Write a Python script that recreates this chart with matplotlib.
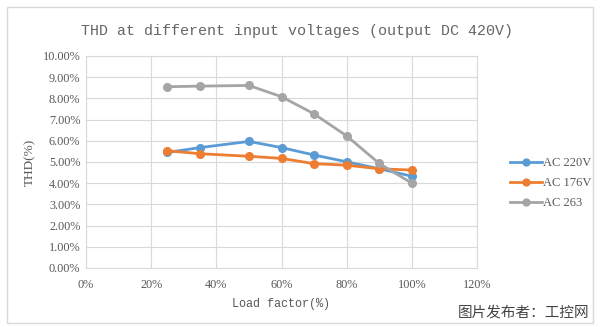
import matplotlib.pyplot as plt
from matplotlib.patches import Rectangle
from matplotlib.ticker import PercentFormatter

load = [25, 35, 50, 60, 70, 80, 90, 100]
ac220 = [5.45, 5.68, 5.97, 5.68, 5.33, 5.01, 4.68, 4.33]
ac176 = [5.53, 5.39, 5.27, 5.17, 4.92, 4.85, 4.68, 4.62]
ac263 = [8.55, 8.58, 8.61, 8.08, 7.27, 6.23, 4.93, 4.0]

series = [("AC 220V", ac220, "#5B9BD5"),
          ("AC 176V", ac176, "#ED7D31"),
          ("AC 263", ac263, "#A5A5A5")]

fig = plt.figure(figsize=(6, 3.27), dpi=100)
# outer chart frame
fig.patches.append(Rectangle((7 / 600, 4 / 327), 586 / 600, 316 / 327, transform=fig.transFigure,
                             fill=False, edgecolor="#D9D9D9", linewidth=1))
ax = fig.add_axes([86 / 600, 59 / 327, 391 / 600, 212 / 327])

for name, vals, col in series:
    ax.plot(load, vals, color=col, marker="o", markersize=5.5, linewidth=2, label=name)

ax.set_xlim(0, 120)
ax.set_ylim(0, 10)
ax.set_xticks(range(0, 121, 20))
ax.set_yticks(range(0, 11))
ax.xaxis.set_major_formatter(PercentFormatter(decimals=0))
ax.yaxis.set_major_formatter(PercentFormatter(decimals=2))
ax.grid(True, color="#D9D9D9", linewidth=0.8)
ax.set_axisbelow(True)
for s in ax.spines.values():
    s.set_color("#D9D9D9")
ax.tick_params(length=0, labelsize=8.8, labelcolor="#595959")
ax.tick_params(axis="x", pad=8)
ax.tick_params(axis="y", pad=4)
for lab in ax.get_xticklabels() + ax.get_yticklabels():
    lab.set_family("Liberation Serif")

ax.set_xlabel("Load factor(%)", family="Liberation Mono", fontsize=8.5, color="#595959", labelpad=5)
ax.set_ylabel("THD(%)", family="Liberation Serif", fontsize=9.5, color="#595959", labelpad=5)
fig.text(0.495, 0.905, "THD at different input voltages (output DC 420V)", ha="center", va="center",
         family="Liberation Mono", fontsize=10.8, color="#666666")

leg = ax.legend(loc="center left", bbox_to_anchor=(1.084, 0.40), frameon=False, fontsize=9,
                handlelength=2.6, handletextpad=0.05, labelspacing=0.65, markerscale=0.9,
                borderaxespad=0, borderpad=0)
for t in leg.get_texts():
    t.set_family("Liberation Serif")
    t.set_color("#595959")

fig.text(0.983, 0.043, "图片发布者：工控网", ha="right", va="center", fontsize=10.5,
         family=["Noto Sans CJK SC", "DejaVu Sans"], color="#444444")

fig.savefig("out.png", dpi=100)
